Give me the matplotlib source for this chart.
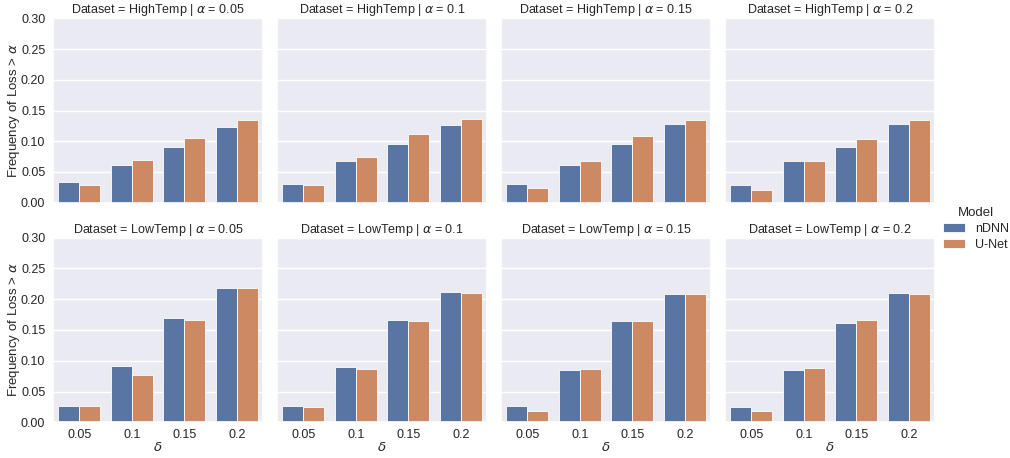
import matplotlib
matplotlib.use("Agg")
import matplotlib.pyplot as plt
import seaborn as sns
import numpy as np

sns.set_theme(style="darkgrid")
plt.rcParams['font.family'] = ['Liberation Sans', 'DejaVu Sans']

datasets = ["HighTemp", "LowTemp"]
alphas = ["0.05", "0.1", "0.15", "0.2"]
deltas = ["0.05", "0.1", "0.15", "0.2"]
models = ["nDNN", "U-Net"]

# rows: alpha; columns: delta
high_ndnn = [
    [0.034, 0.062, 0.091, 0.123],
    [0.030, 0.068, 0.096, 0.126],
    [0.030, 0.061, 0.096, 0.128],
    [0.028, 0.068, 0.091, 0.128],
]
high_unet = [
    [0.028, 0.069, 0.105, 0.134],
    [0.028, 0.074, 0.112, 0.136],
    [0.024, 0.068, 0.109, 0.135],
    [0.021, 0.068, 0.104, 0.134],
]
low_ndnn = [
    [0.026, 0.091, 0.169, 0.218],
    [0.027, 0.090, 0.167, 0.212],
    [0.026, 0.085, 0.165, 0.209],
    [0.025, 0.085, 0.162, 0.210],
]
low_unet = [
    [0.027, 0.077, 0.167, 0.219],
    [0.025, 0.087, 0.165, 0.210],
    [0.019, 0.087, 0.165, 0.208],
    [0.018, 0.089, 0.166, 0.209],
]

series = {"HighTemp": (high_ndnn, high_unet), "LowTemp": (low_ndnn, low_unet)}
colors = ["#5875A4", "#CC8963"]

fig = plt.figure(figsize=(10.10, 4.58), dpi=100)
W, H = 1010, 458
lefts = [53, 277, 501, 725]
aw = 210
rows = [(18.3, 202.7), (237.7, 422.3)]

x = np.arange(len(deltas))
bw = 0.4
handles = None
for r, ds in enumerate(datasets):
    top, bot = rows[r]
    for c, a in enumerate(alphas):
        ax = fig.add_axes([lefts[c] / W, 1 - bot / H, aw / W, (bot - top) / H])
        nd, un = series[ds]
        b1 = ax.bar(x - bw / 2, nd[c], width=bw, color=colors[0], edgecolor="white", linewidth=0.6, label=models[0])
        b2 = ax.bar(x + bw / 2, un[c], width=bw, color=colors[1], edgecolor="white", linewidth=0.6, label=models[1])
        handles = [b1, b2]
        ax.set_xlim(-0.5, 3.5)
        ax.set_ylim(0, 0.30)
        ax.grid(axis="x", visible=False)
        ax.set_yticks(np.arange(0, 0.301, 0.05))
        ax.set_xticks(x)
        ax.tick_params(axis="both", labelsize=9, length=0)
        ax.tick_params(axis="y", pad=5.5)
        ax.tick_params(axis="x", pad=5)
        ax.set_title(f"Dataset = {ds} | $\\alpha$ = {a}", fontsize=9.0, pad=3.5)
        if c == 0:
            ax.set_yticklabels([f"{v:.2f}" for v in np.arange(0, 0.301, 0.05)])
            ax.set_ylabel("Frequency of Loss > $\\alpha$", fontsize=9.5, labelpad=-1)
        else:
            ax.set_yticklabels([])
        if r == 1:
            ax.set_xticklabels(deltas)
            ax.set_xlabel("$\\delta$", fontsize=9.5, labelpad=0)
        else:
            ax.set_xticklabels([])

leg = fig.legend(handles, models, title="Model", loc="center left",
                 bbox_to_anchor=(938 / W, 1 - 229 / H), frameon=False,
                 fontsize=9, title_fontsize=9.5, handlelength=1.8,
                 handletextpad=0.8, labelspacing=0.3, borderaxespad=0, borderpad=0.3)
fig.canvas.draw()
bb = leg.get_window_extent()
# shift legend so that its left edge sits at ~939 px
dx = (939 - bb.x0) / W
leg.set_bbox_to_anchor((938 / W + dx, 1 - 229 / H), transform=fig.transFigure)

fig.savefig("out.png", dpi=100)
